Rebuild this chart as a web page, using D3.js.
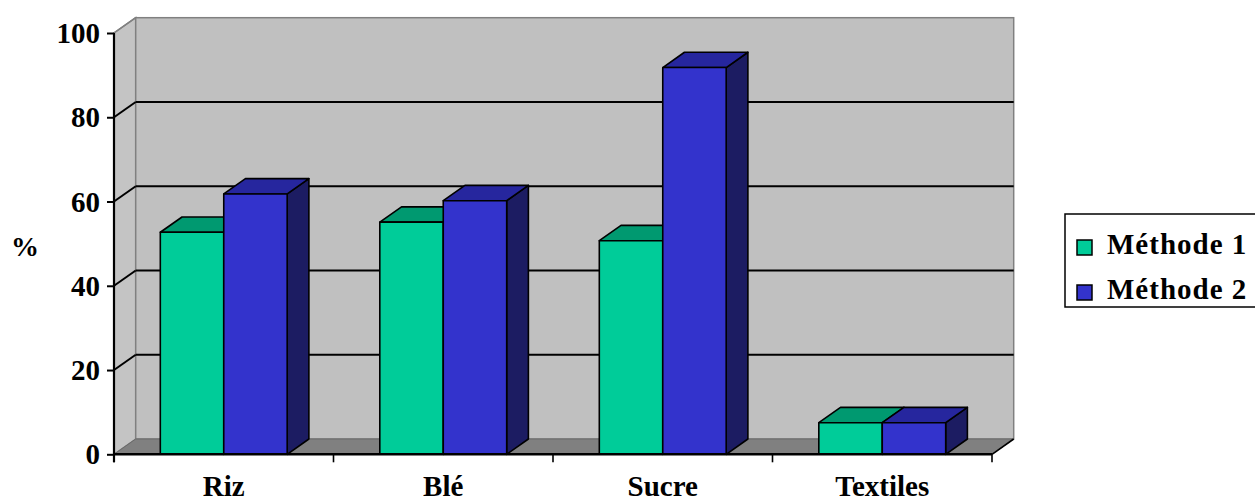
<!DOCTYPE html>
<html>
<head>
<meta charset="utf-8">
<script src="https://cdn.jsdelivr.net/npm/d3@7"></script>
<style>
  html, body { margin: 0; padding: 0; background: #ffffff; }
  svg { display: block; }
  text { font-family: "Liberation Serif", "Times New Roman", serif; font-weight: bold; fill: #000; }
</style>
</head>
<body>
<svg id="chart" width="1255" height="502"></svg>
<script>
// Data
const categories = ["Riz", "Blé", "Sucre", "Textiles"];
const seriesNames = ["Méthode 1", "Méthode 2"];
const methode1 = [52.7, 55.1, 50.7, 7.5];
const methode2 = [61.8, 60.2, 91.8, 7.5];
const yTicks = [0, 20, 40, 60, 80, 100];

// Face colours per series: front, top, side
const palette = {
  "Méthode 1": { front: "#00CC99", top: "#009970", side: "#006B4F" },
  "Méthode 2": { front: "#3333CC", top: "#26269E", side: "#1C1C62" }
};

const svg = d3.select("#chart");

// Front plane of the 3-D box and its depth offset
const plotLeft = 114, plotRight = 992, plotBottom = 454.3, plotTop = 33;
const dx = 21.7, dy = -15.3;

const y = d3.scaleLinear().domain([0, 100]).range([plotBottom, plotTop]);
const xCat = d3.scaleBand().domain(categories).range([plotLeft, plotRight]).padding(0);
const xSeries = d3.scaleBand().domain(seriesNames)
  .range([0, xCat.bandwidth()]).paddingInner(0).paddingOuter(0.73);

const rows = categories.map((c, i) => ({
  category: c,
  values: [
    { series: seriesNames[0], value: methode1[i] },
    { series: seriesNames[1], value: methode2[i] }
  ]
}));

// Walls
const walls = svg.append("g");
// left side wall
walls.append("polygon")
  .attr("points", [[plotLeft, y(0)], [plotLeft, y(100)], [plotLeft + dx, y(100) + dy], [plotLeft + dx, y(0) + dy]].join(" "))
  .attr("fill", "#C4C4C4").attr("stroke", "#808080").attr("stroke-width", 1.5);
// back wall
walls.append("rect")
  .attr("x", plotLeft + dx).attr("y", y(100) + dy)
  .attr("width", plotRight - plotLeft).attr("height", y(0) - y(100))
  .attr("fill", "#C0C0C0").attr("stroke", "#808080").attr("stroke-width", 1.5);
// floor
walls.append("polygon")
  .attr("points", [[plotLeft, y(0)], [plotRight, y(0)], [plotRight + dx, y(0) + dy], [plotLeft + dx, y(0) + dy]].join(" "))
  .attr("fill", "#808080").attr("stroke", "#6a6a6a").attr("stroke-width", 1);

// Gridlines: diagonal on the side wall, horizontal on the back wall
const gridVals = yTicks.filter(v => v > 0 && v < 100);
const grid = svg.append("g").attr("stroke", "#000").attr("stroke-width", 2);
grid.selectAll("line.h").data(gridVals).join("line")
  .attr("class", "h")
  .attr("x1", plotLeft + dx).attr("x2", plotRight + dx)
  .attr("y1", d => y(d) + dy).attr("y2", d => y(d) + dy);
grid.selectAll("line.d").data(gridVals).join("line")
  .attr("class", "d")
  .attr("x1", plotLeft).attr("x2", plotLeft + dx)
  .attr("y1", d => y(d)).attr("y2", d => y(d) + dy);
// top-left diagonal of the wall up to 100
svg.append("line")
  .attr("x1", plotLeft).attr("y1", y(100)).attr("x2", plotLeft + dx).attr("y2", y(100) + dy)
  .attr("stroke", "#808080").attr("stroke-width", 1.5);

// Bars as 3-D boxes
const bars = svg.append("g").attr("stroke", "#000").attr("stroke-width", 1.6).attr("stroke-linejoin", "round");
rows.forEach(row => {
  row.values.forEach(d => {
    const x0 = xCat(row.category) + xSeries(d.series);
    const x1 = x0 + xSeries.bandwidth();
    const yt = y(d.value), yb = y(0);
    const col = palette[d.series];
    const g = bars.append("g");
    g.append("polygon")
      .attr("points", [[x1, yt], [x1 + dx, yt + dy], [x1 + dx, yb + dy], [x1, yb]].join(" "))
      .attr("fill", col.side);
    g.append("polygon")
      .attr("points", [[x0, yt], [x0 + dx, yt + dy], [x1 + dx, yt + dy], [x1, yt]].join(" "))
      .attr("fill", col.top);
    g.append("rect")
      .attr("x", x0).attr("y", yt)
      .attr("width", x1 - x0).attr("height", yb - yt)
      .attr("fill", col.front);
  });
});

// Y axis
const yAxis = d3.axisLeft(y).tickValues(yTicks).tickSize(7).tickPadding(7).tickSizeOuter(0);
const gy = svg.append("g").attr("transform", `translate(${plotLeft},0)`).call(yAxis);
gy.select(".domain").attr("stroke", "#000").attr("stroke-width", 2.2)
  .attr("d", `M0,${y(100)}V${y(0) + 8}`);
gy.selectAll(".tick line").attr("stroke", "#000").attr("stroke-width", 2);
gy.selectAll(".tick text")
  .attr("font-family", "Liberation Serif, Times New Roman, serif")
  .attr("font-weight", "bold").attr("font-size", 29).attr("dy", "0.33em");

// X axis: line, boundary ticks and floor edge
const xAxis = svg.append("g");
xAxis.append("line")
  .attr("x1", plotLeft).attr("x2", plotRight).attr("y1", y(0)).attr("y2", y(0))
  .attr("stroke", "#000").attr("stroke-width", 2.4);
xAxis.append("line")
  .attr("x1", plotRight).attr("y1", y(0)).attr("x2", plotRight + dx).attr("y2", y(0) + dy)
  .attr("stroke", "#000").attr("stroke-width", 1.6);
const boundaries = categories.map(c => xCat(c)).concat([plotRight]);
xAxis.selectAll("line.tick").data(boundaries).join("line")
  .attr("class", "tick")
  .attr("x1", d => d).attr("x2", d => d)
  .attr("y1", y(0)).attr("y2", y(0) + 8)
  .attr("stroke", "#000").attr("stroke-width", 1.6);
xAxis.selectAll("text").data(categories).join("text")
  .attr("x", d => xCat(d) + xCat.bandwidth() / 2)
  .attr("y", 496)
  .attr("text-anchor", "middle")
  .attr("font-size", 29)
  .text(d => d);

// Y axis title
svg.append("text")
  .attr("x", 25).attr("y", 256)
  .attr("text-anchor", "middle")
  .attr("font-size", 28)
  .text("%");

// Legend
const legend = svg.append("g");
legend.append("rect")
  .attr("x", 1065).attr("y", 214).attr("width", 200).attr("height", 93)
  .attr("fill", "#fff").attr("stroke", "#000").attr("stroke-width", 1.5);
const items = legend.selectAll("g.item").data(seriesNames).join("g")
  .attr("class", "item")
  .attr("transform", (d, i) => `translate(0, ${i * 45})`);
items.append("rect")
  .attr("x", 1077).attr("y", 240)
  .attr("width", 15).attr("height", 15)
  .attr("fill", d => palette[d].front)
  .attr("stroke", "#000").attr("stroke-width", 1.5);
items.append("text")
  .attr("x", 1107).attr("y", 254)
  .attr("font-size", 29)
  .attr("letter-spacing", 1)
  .text(d => d);
</script>
</body>
</html>
